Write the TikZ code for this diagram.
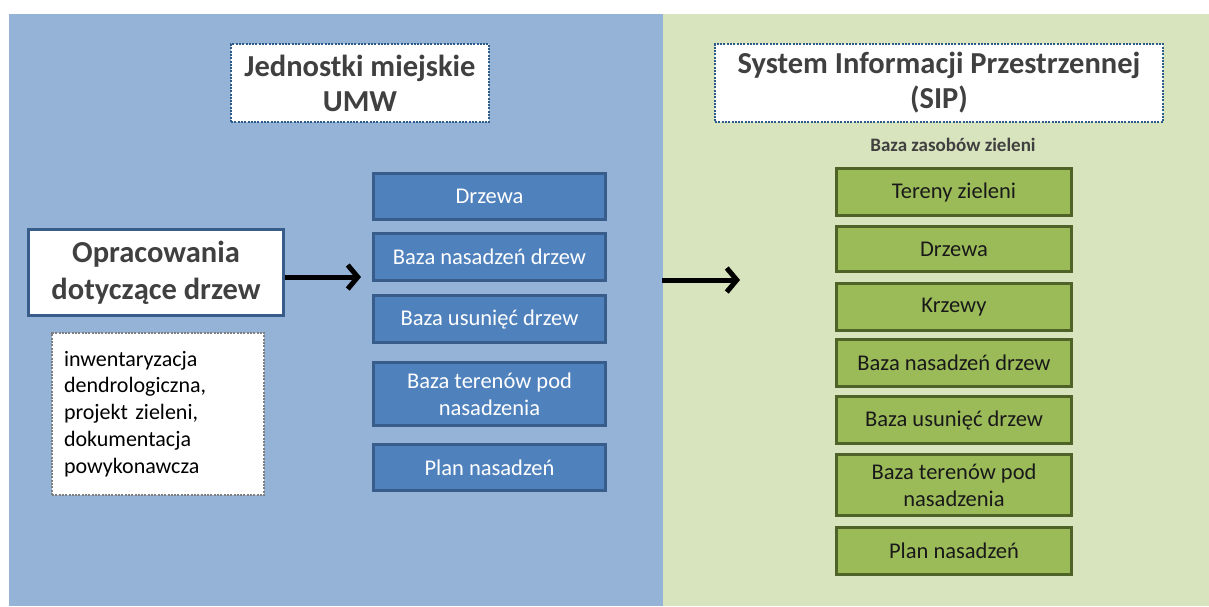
\documentclass[tikz,border=0pt]{standalone}
\usepackage{fontspec}
\setmainfont{Carlito}
\usetikzlibrary{arrows.meta}
\definecolor{panelblue}{HTML}{95B3D7}
\definecolor{panelgreen}{HTML}{D7E4BD}
\definecolor{boxblue}{HTML}{4F81BD}
\definecolor{edgeblue}{HTML}{385D8A}
\definecolor{boxgreen}{HTML}{9BBB59}
\definecolor{edgegreen}{HTML}{4F6228}
\definecolor{titleedge}{HTML}{2E5C8A}
\definecolor{textgray}{HTML}{404040}
\definecolor{dotgray}{HTML}{7F7F7F}
\begin{document}
\begin{tikzpicture}[x=1pt,y=-1pt,
  bluebox/.style={draw=edgeblue, fill=boxblue, line width=3pt, text=white,
    font=\fontsize{22.5}{27}\selectfont, minimum width=232pt, align=center, inner sep=0pt},
  greenbox/.style={draw=edgegreen, fill=boxgreen, line width=3pt, text=black!90,
    font=\fontsize{22.5}{27}\selectfont, minimum width=235pt, align=center, inner sep=0pt},
  titlebox/.style={draw=titleedge, dash pattern=on 2pt off 1.3pt, line width=2.5pt, fill=white,
    text=textgray, font=\bfseries\fontsize{30.5}{35}\selectfont, align=center, inner sep=0pt},
  bigarrow/.style={line width=5pt, -{Straight Barb[length=10pt,width=24pt]}}
]
\useasboundingbox (0,0) rectangle (1209,606);
\fill[white] (0,0) rectangle (1209,606);
\fill[panelblue] (9,14) rectangle (663,606);
\fill[panelgreen] (663,14) rectangle (1209,606);

% titles
\node[titlebox, minimum width=258pt, minimum height=78pt] (tl) at (360,83) {Jednostki miejskie\\UMW};
\node[titlebox, minimum width=448pt, minimum height=78pt] (tr) at (939,83) {System Informacji Przestrzennej\\(SIP)};
\node[text=textgray, font=\bfseries\fontsize{19}{22}\selectfont, inner sep=0pt] (bz) at (953,145) {Baza zasobów zieleni};

% left side
\node[draw=edgeblue, fill=white, line width=3pt, text=textgray, font=\bfseries\fontsize{30.5}{37}\selectfont,
  align=center, inner sep=0pt, minimum width=255pt, minimum height=86pt] (op) at (156,272.5)
  {Opracowania\\dotyczące drzew};
\node[draw=dotgray, dash pattern=on 2pt off 1.3pt, line width=2.5pt, fill=white, text=black,
  font=\fontsize{22}{26.9}\selectfont, align=left, inner sep=0pt, minimum width=212pt, minimum height=162pt,
  text width=188pt] (desc) at (158,414)
  {inwentaryzacja\\dendrologiczna,\\projekt zieleni,\\dokumentacja\\powykonawcza};

% blue boxes
\node[bluebox, minimum height=46pt] (b1) at (489.5,196.5) {Drzewa};
\node[bluebox, minimum height=47pt] (b2) at (489.5,257) {Baza nasadzeń drzew};
\node[bluebox, minimum height=47pt] (b3) at (489.5,319) {Baza usunięć drzew};
\node[bluebox, minimum height=63pt] (b4) at (489.5,394) {Baza terenów pod\\nasadzenia};
\node[bluebox, minimum height=46pt] (b5) at (489.5,467.5) {Plan nasadzeń};

% green boxes
\node[greenbox, minimum height=47pt] (g1) at (954,192) {Tereny zieleni};
\node[greenbox, minimum height=45pt] (g2) at (954,249) {Drzewa};
\node[greenbox, minimum height=47pt] (g3) at (954,307) {Krzewy};
\node[greenbox, minimum height=47pt] (g4) at (954,363) {Baza nasadzeń drzew};
\node[greenbox, minimum height=47pt] (g5) at (954,420) {Baza usunięć drzew};
\node[greenbox, minimum height=61pt] (g6) at (954,485) {Baza terenów pod\\nasadzenia};
\node[greenbox, minimum height=47pt] (g7) at (954,551) {Plan nasadzeń};

% arrows
\coordinate (a1end) at (361,277);
\coordinate (a2start) at (662,280);
\coordinate (a2end) at (740,280);
\draw[bigarrow] ([yshift=-4.5pt]op.east) -- (a1end);
\draw[bigarrow] (a2start) -- (a2end);
\end{tikzpicture}
\end{document}
